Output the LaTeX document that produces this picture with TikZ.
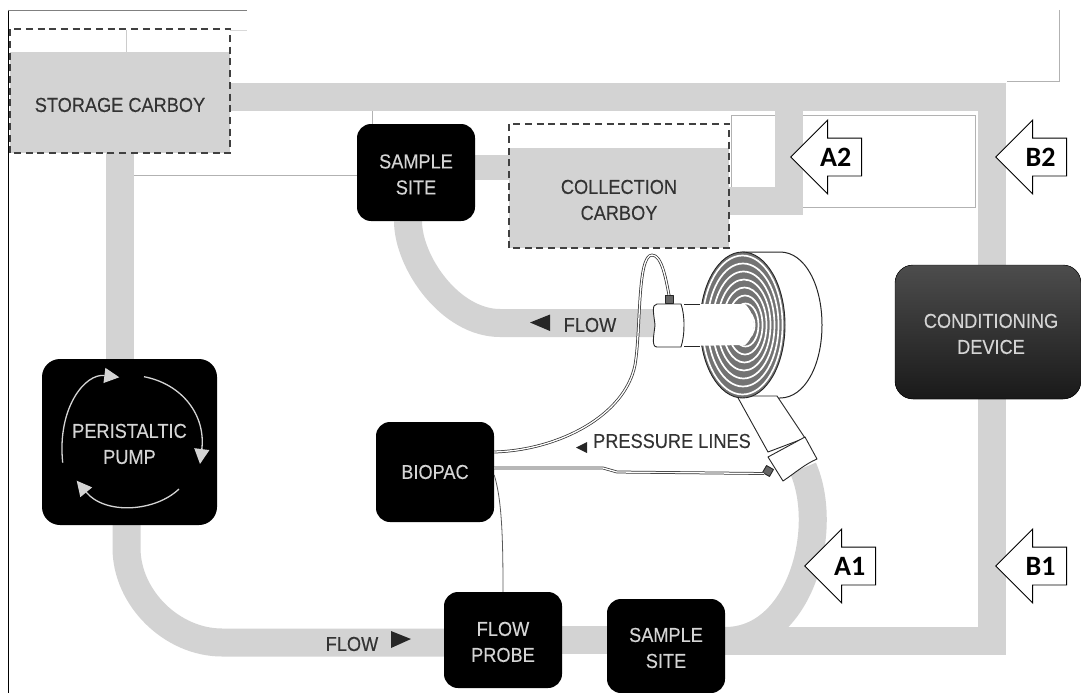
\documentclass[tikz,border=0pt]{standalone}
\usepackage{fontspec}
\setmainfont{Liberation Sans}[FakeStretch=0.9,FakeBold=0.2]
\newfontfamily\MarkFont{Carlito}
\usepackage{xcolor}
\usetikzlibrary{arrows.meta,backgrounds,shapes.arrows}
\definecolor{pipegray}{HTML}{D3D3D3}
\definecolor{boxtext}{HTML}{D4D4D4}
\definecolor{darktext}{HTML}{333333}
\newcommand{\LabelFont}{\fontsize{20.2}{26}\selectfont}
\newcommand{\MarkerFont}{\fontsize{28}{30}\selectfont\MarkFont\bfseries}
\newcommand{\TopGap}{\rule{0pt}{18pt}}
\tikzset{
  pipe/.style={draw=pipegray,line width=28pt},
  blackbox/.style={fill=black,text=boxtext,rounded corners=14pt,align=center,font=\LabelFont,inner sep=0pt},
  carboybox/.style={fill=pipegray,text=darktext,align=center,font=\LabelFont,inner sep=0pt},
  carboydash/.style={draw=black!75,line width=2pt,dash pattern=on 7pt off 4.7pt},
  flowlabel/.style={text=darktext,font=\LabelFont,inner sep=0pt},
  wire/.style={draw=black!80,line width=0.75pt,double=white,double distance=1.3pt},
  thinline/.style={draw=black!30,line width=0.7pt},
  part/.style={draw=black!85,fill=white,line width=0.9pt,line join=round},
  marker/.style={single arrow,draw=black,fill=white,line width=0.9pt,shape border rotate=180,
    single arrow head extend=18pt,single arrow tip angle=90,minimum height=71pt,
    text height=18pt,text depth=0pt,inner ysep=9.5pt,inner xsep=0pt,anchor=tip,font=\MarkerFont},
  pumparrow/.style={draw=boxtext,line width=1.3pt,-{Triangle[length=15pt,width=15pt]}}
}
\begin{document}
\begin{tikzpicture}[x=1pt,y=-1pt]
  \useasboundingbox (0,0) rectangle (1081,693);
  % boxes
  \node[carboybox,minimum width=220pt,minimum height=101pt] (storage) at (120,102.5) {\rule{0pt}{19pt}STORAGE CARBOY};
  \node[carboybox,minimum width=220pt,minimum height=100pt] (collection) at (619,198) {\TopGap COLLECTION\\CARBOY};
  \node[blackbox,minimum width=118pt,minimum height=97pt] (sitetop) at (416,172.5) {\TopGap SAMPLE\\SITE};
  \node[blackbox,minimum width=175pt,minimum height=166pt,rounded corners=18pt] (pump) at (129.5,442) {\TopGap PERISTALTIC\\PUMP};
  \node[blackbox,minimum width=118pt,minimum height=100pt] (biopac) at (435,472) {BIOPAC};
  \node[blackbox,minimum width=118pt,minimum height=96pt] (probe) at (503,640) {\TopGap FLOW\\PROBE};
  \node[blackbox,minimum width=118pt,minimum height=94pt] (sitebottom) at (666,646) {\TopGap SAMPLE\\SITE};
  \node[blackbox,minimum width=186pt,minimum height=134pt,rounded corners=18pt,top color=black!70,bottom color=black!90,draw=black]
    (conditioning) at (988,332) {\TopGap\hspace*{6pt}CONDITIONING\\\hspace*{6pt}DEVICE};
  \draw[carboydash] (storage.south west) rectangle ([yshift=23pt]storage.north east);
  \draw[carboydash] (collection.south west) rectangle ([yshift=24pt]collection.north east);

  \coordinate (topcorner) at (991.5,97);
  \coordinate (bottomcorner) at (991.5,641);
  \coordinate (teejoint) at (788.5,200.5);
  \begin{scope}[on background layer]
    % stray frame lines
    \draw[draw=black,line width=1.2pt] (8.5,10) -- (8.5,693);
    \draw[thinline,draw=black!50] (8,10.5) -- (247,10.5);
    \draw[thinline,draw=black!15] (230,30) -- (247,30);
    \draw[thinline,draw=black!20] (126,30) -- (126,52);
    \draw[thinline] (134,175) -- (sitetop.west |- 0,175);
    \draw[thinline] (372,111) -- (372,125);
    \draw[thinline] (1059,10) -- (1059,81) -- (1007,81);
    \draw[thinline] (775,115) -- (731,115) -- (731,187);
    \draw[thinline] (803,115) -- (975,115) -- (975,207) -- (803,207);
    % pipes
    \draw[pipe] (storage.east |- topcorner) -- (topcorner) -- (conditioning.north -| topcorner);
    \draw[pipe] (conditioning.south -| bottomcorner) -- (bottomcorner) -- (sitebottom.east |- bottomcorner);
    \draw[pipe] (storage.south) -- (storage.south |- pump.north);
    \draw[pipe] (pump.south -| 126.5,0) -- (126.5,548) .. controls (126.5,598) and (172,642.5) .. (222,642.5) -- ([yshift=-2.5pt]probe.west);
    \draw[pipe] (probe.east) -- (probe.east -| sitebottom.west);
    \draw[pipe,line width=25pt] (sitetop.east |- 0,167.5) -- (collection.west |- 0,167.5);
    \draw[pipe] (408,221) .. controls (408,262) and (450,323) .. (500,323) -- (656,323);
    \draw[pipe] (788.5,97) -- (teejoint) -- (teejoint -| collection.east);
    \draw[pipe] (803,468) .. controls (830,530) and (800,641) .. (sitebottom.east |- bottomcorner);
  \end{scope}

  % volute
  \draw[part,line width=1pt] (742,252) -- (780,252) .. controls (805,252) and (822,285) .. (822,325)
    .. controls (822,365) and (805,398) .. (780,398) -- (742,398) -- cycle;
  \draw[part] (737,396) -- (768,452) -- (805,438) -- (777,396) -- cycle;
  \draw[draw=black!85,fill=black!55,line width=0.9pt] (742.5,325) ellipse [x radius=42.5,y radius=73];
  \foreach \ring in {0,...,7}
    \draw[white,line width=1.7pt] (742.5+\ring*0.5,325) ellipse [x radius=40-\ring*4.5,y radius=69.5-\ring*8];
  \fill[white] (684,304) -- (745,304) .. controls (751,310) and (754,318) .. (754,325)
    .. controls (754,332) and (751,340) .. (745,345) -- (684,346) -- cycle;
  \draw[black!85,line width=0.9pt] (684,304) -- (700,304) (684,346) -- (700,346);
  % clamps
  \draw[part] (657,304) -- (681,304) .. controls (685,315) and (685,335) .. (681,347) -- (657,347)
    .. controls (651,347) and (654,335) .. (655,325) .. controls (654,315) and (651,304) .. (657,304) -- cycle;
  \draw[part,fill=black!60] (665,295) rectangle (673,303);
  \draw[part] (768,457) -- (805,437) -- (817,459) .. controls (805,464) and (795,473) .. (783,481) -- cycle;
  \draw[part,fill=black!60,rotate around={-30:(768,471)}] (764,467) rectangle (772,475);
  % pressure lines
  \draw[wire] (biopac.east |- 0,452) .. controls (560,450) and (625,415) .. (635,365)
    .. controls (641,330) and (637,255) .. (652,255) .. controls (662,255) and (666,280) .. (669,295);
  \draw[wire] (biopac.east |- 0,468) -- (603,468) -- (617,472) -- (764,473.5);
  \draw[black!65,line width=0.8pt] ([yshift=-3pt]biopac.east) .. controls (502,500) and (503,540) .. (probe.north);

  % pump arrows
  \draw[pumparrow] (62.7,462.7) .. controls (57,408) and (85,373) .. (119.3,377.3);
  \draw[pumparrow] (144,376.7) .. controls (182,384) and (206,415) .. (200,464);
  \draw[pumparrow] (179,489) .. controls (155,512) and (105,515) .. (76.7,480.7);

  % labels on the pipes
  \node[flowlabel] (flowupper) at (590,325) {FLOW};
  \node[flowlabel] (flowlower) at (352,644) {FLOW};
  \node[flowlabel] (pressure) at (672,441) {PRESSURE LINES};
  \fill[black!85] (530,322.5) -- (550,314.5) -- (550,331) -- cycle;
  \fill[black!85] (411,639) -- (391,631) -- (391,648) -- cycle;
  \fill[black!85] (576,447.5) -- (587,442) -- (587,453) -- cycle;

  % position markers
  \node[marker] (markerA2) at (790,157) {A2};
  \node[marker] (markerB2) at (995,157) {B2};
  \node[marker] (markerA1) at (804,566) {A1};
  \node[marker] (markerB1) at (995,566) {B1};
\end{tikzpicture}
\end{document}
